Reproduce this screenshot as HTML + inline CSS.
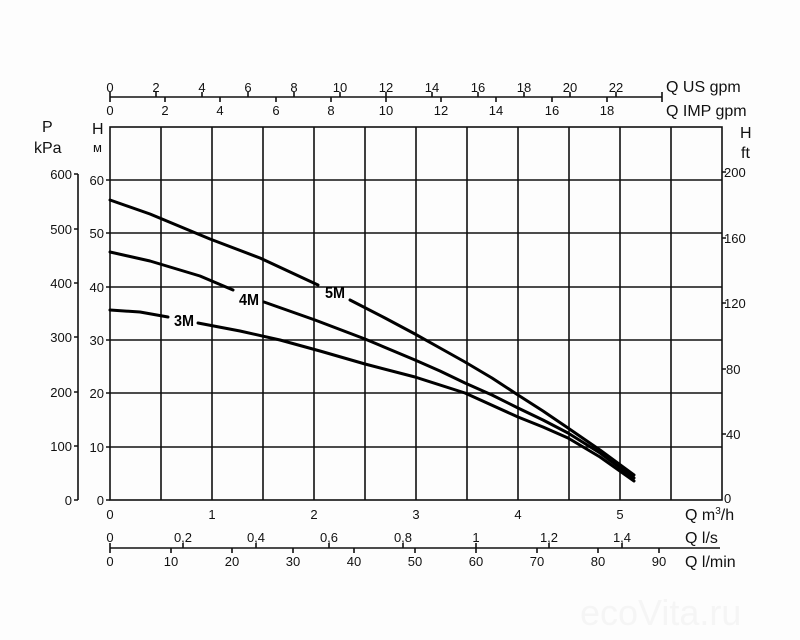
<!DOCTYPE html>
<html><head><meta charset="utf-8"><style>
html,body{margin:0;padding:0;background:#fff;}
svg{display:block;font-family:"Liberation Sans",sans-serif;}
</style></head><body>
<svg width="800" height="640" viewBox="0 0 800 640">
<rect width="800" height="640" fill="#fdfdfd"/>
<g stroke="#111" stroke-width="1.6" fill="none">
<rect x="110" y="127" width="612" height="373"/>
<path d="M161 127V500M212 127V500M263 127V500M314 127V500M365 127V500M416 127V500M467 127V500M518 127V500M569 127V500M620 127V500M671 127V500"/>
<path d="M110 180H722M110 233H722M110 287H722M110 340H722M110 393H722M110 447H722"/>
<path d="M78 174V500M74 500H78M74 446H78M74 392H78M74 337H78M74 283H78M74 229H78M74 174H78"/>
<path d="M106 500H110M106 447H110M106 393H110M106 340H110M106 287H110M106 233H110M106 180H110"/>
<path d="M722 172H726M722 238H726M722 303H726M722 369H726M722 434H726"/>
<path d="M110 97H662M662 92V102"/>
<path d="M110 92V97M156 92V97M202 92V97M248 92V97M294 92V97M340 92V97M386 92V97M432 92V97M478 92V97M524 92V97M570 92V97M616 92V97"/>
<path d="M110 97V102M165 97V102M220 97V102M276 97V102M331 97V102M386 97V102M441 97V102M496 97V102M552 97V102M607 97V102"/>
<path d="M110 548H720"/>
<path d="M110 543V548M183 543V548M256 543V548M329 543V548M403 543V548M476 543V548M549 543V548M622 543V548"/>
<path d="M110 548V553M171 548V553M232 548V553M293 548V553M354 548V553M415 548V553M476 548V553M537 548V553M598 548V553M659 548V553"/>
</g>
<g stroke="#000" stroke-width="3" fill="none" stroke-linecap="round" stroke-linejoin="round">
<polyline points="110,200 150,214 210,239 260,258 318,285"/>
<polyline points="350,300 385,318 415,334 440,348 465,362 492,378 518,395 543,411 568,428 600,450 634,475"/>
<polyline points="110,252 150,261 200,276 233,290"/>
<polyline points="264,302 315,320 365,339 415,360 440,371 465,383 492,395 518,408 543,420 568,433 600,453 634,478"/>
<polyline points="110,310 140,312 168,317"/>
<polyline points="198,323 240,331 280,340 320,351 365,364 415,377 465,393 518,417 543,427 568,438 600,457 634,481"/>
</g>
<g font-weight="bold" font-size="16" fill="#000" text-anchor="middle">
<text x="335" y="298" textLength="20" lengthAdjust="spacingAndGlyphs">5M</text>
<text x="249" y="305" textLength="20" lengthAdjust="spacingAndGlyphs">4M</text>
<text x="184" y="326" textLength="20" lengthAdjust="spacingAndGlyphs">3M</text>
</g>
<g font-size="13" fill="#111">
<g text-anchor="middle">
<text x="110" y="92">0</text><text x="156" y="92">2</text><text x="202" y="92">4</text><text x="248" y="92">6</text><text x="294" y="92">8</text><text x="340" y="92">10</text><text x="386" y="92">12</text><text x="432" y="92">14</text><text x="478" y="92">16</text><text x="524" y="92">18</text><text x="570" y="92">20</text><text x="616" y="92">22</text>
<text x="110" y="115">0</text><text x="165" y="115">2</text><text x="220" y="115">4</text><text x="276" y="115">6</text><text x="331" y="115">8</text><text x="386" y="115">10</text><text x="441" y="115">12</text><text x="496" y="115">14</text><text x="552" y="115">16</text><text x="607" y="115">18</text>
<text x="110" y="519">0</text><text x="212" y="519">1</text><text x="314" y="519">2</text><text x="416" y="519">3</text><text x="518" y="519">4</text><text x="620" y="519">5</text>
<text x="110" y="542">0</text><text x="183" y="542">0,2</text><text x="256" y="542">0,4</text><text x="329" y="542">0,6</text><text x="403" y="542">0,8</text><text x="476" y="542">1</text><text x="549" y="542">1,2</text><text x="622" y="542">1,4</text>
<text x="110" y="566">0</text><text x="171" y="566">10</text><text x="232" y="566">20</text><text x="293" y="566">30</text><text x="354" y="566">40</text><text x="415" y="566">50</text><text x="476" y="566">60</text><text x="537" y="566">70</text><text x="598" y="566">80</text><text x="659" y="566">90</text>
</g>
<g text-anchor="end">
<text x="72" y="505">0</text><text x="72" y="451">100</text><text x="72" y="397">200</text><text x="72" y="342">300</text><text x="72" y="288">400</text><text x="72" y="234">500</text><text x="72" y="179">600</text>
<text x="104" y="505">0</text><text x="104" y="452">10</text><text x="104" y="398">20</text><text x="104" y="345">30</text><text x="104" y="292">40</text><text x="104" y="238">50</text><text x="104" y="185">60</text>
</g>
<g>
<text x="724" y="503">0</text><text x="726" y="439">40</text><text x="726" y="374">80</text><text x="724" y="308">120</text><text x="724" y="243">160</text><text x="724" y="177">200</text>
</g>
<g font-size="16">
<text x="666" y="92">Q US gpm</text>
<text x="666" y="116">Q IMP gpm</text>
<text x="740" y="138">H</text>
<text x="741" y="158">ft</text>
<text x="42" y="132">P</text>
<text x="34" y="153">kPa</text>
<text x="92" y="134">H</text>
<text x="93" y="152" font-size="13">м</text>
<text x="685" y="520">Q m<tspan font-size="10" dy="-6">3</tspan><tspan dy="6">/h</tspan></text>
<text x="685" y="543">Q l/s</text>
<text x="685" y="567">Q l/min</text>
</g>
</g>
<text x="580" y="625" font-size="36" fill="#f5f5f5">ecoVita.ru</text>
</svg>
</body></html>
